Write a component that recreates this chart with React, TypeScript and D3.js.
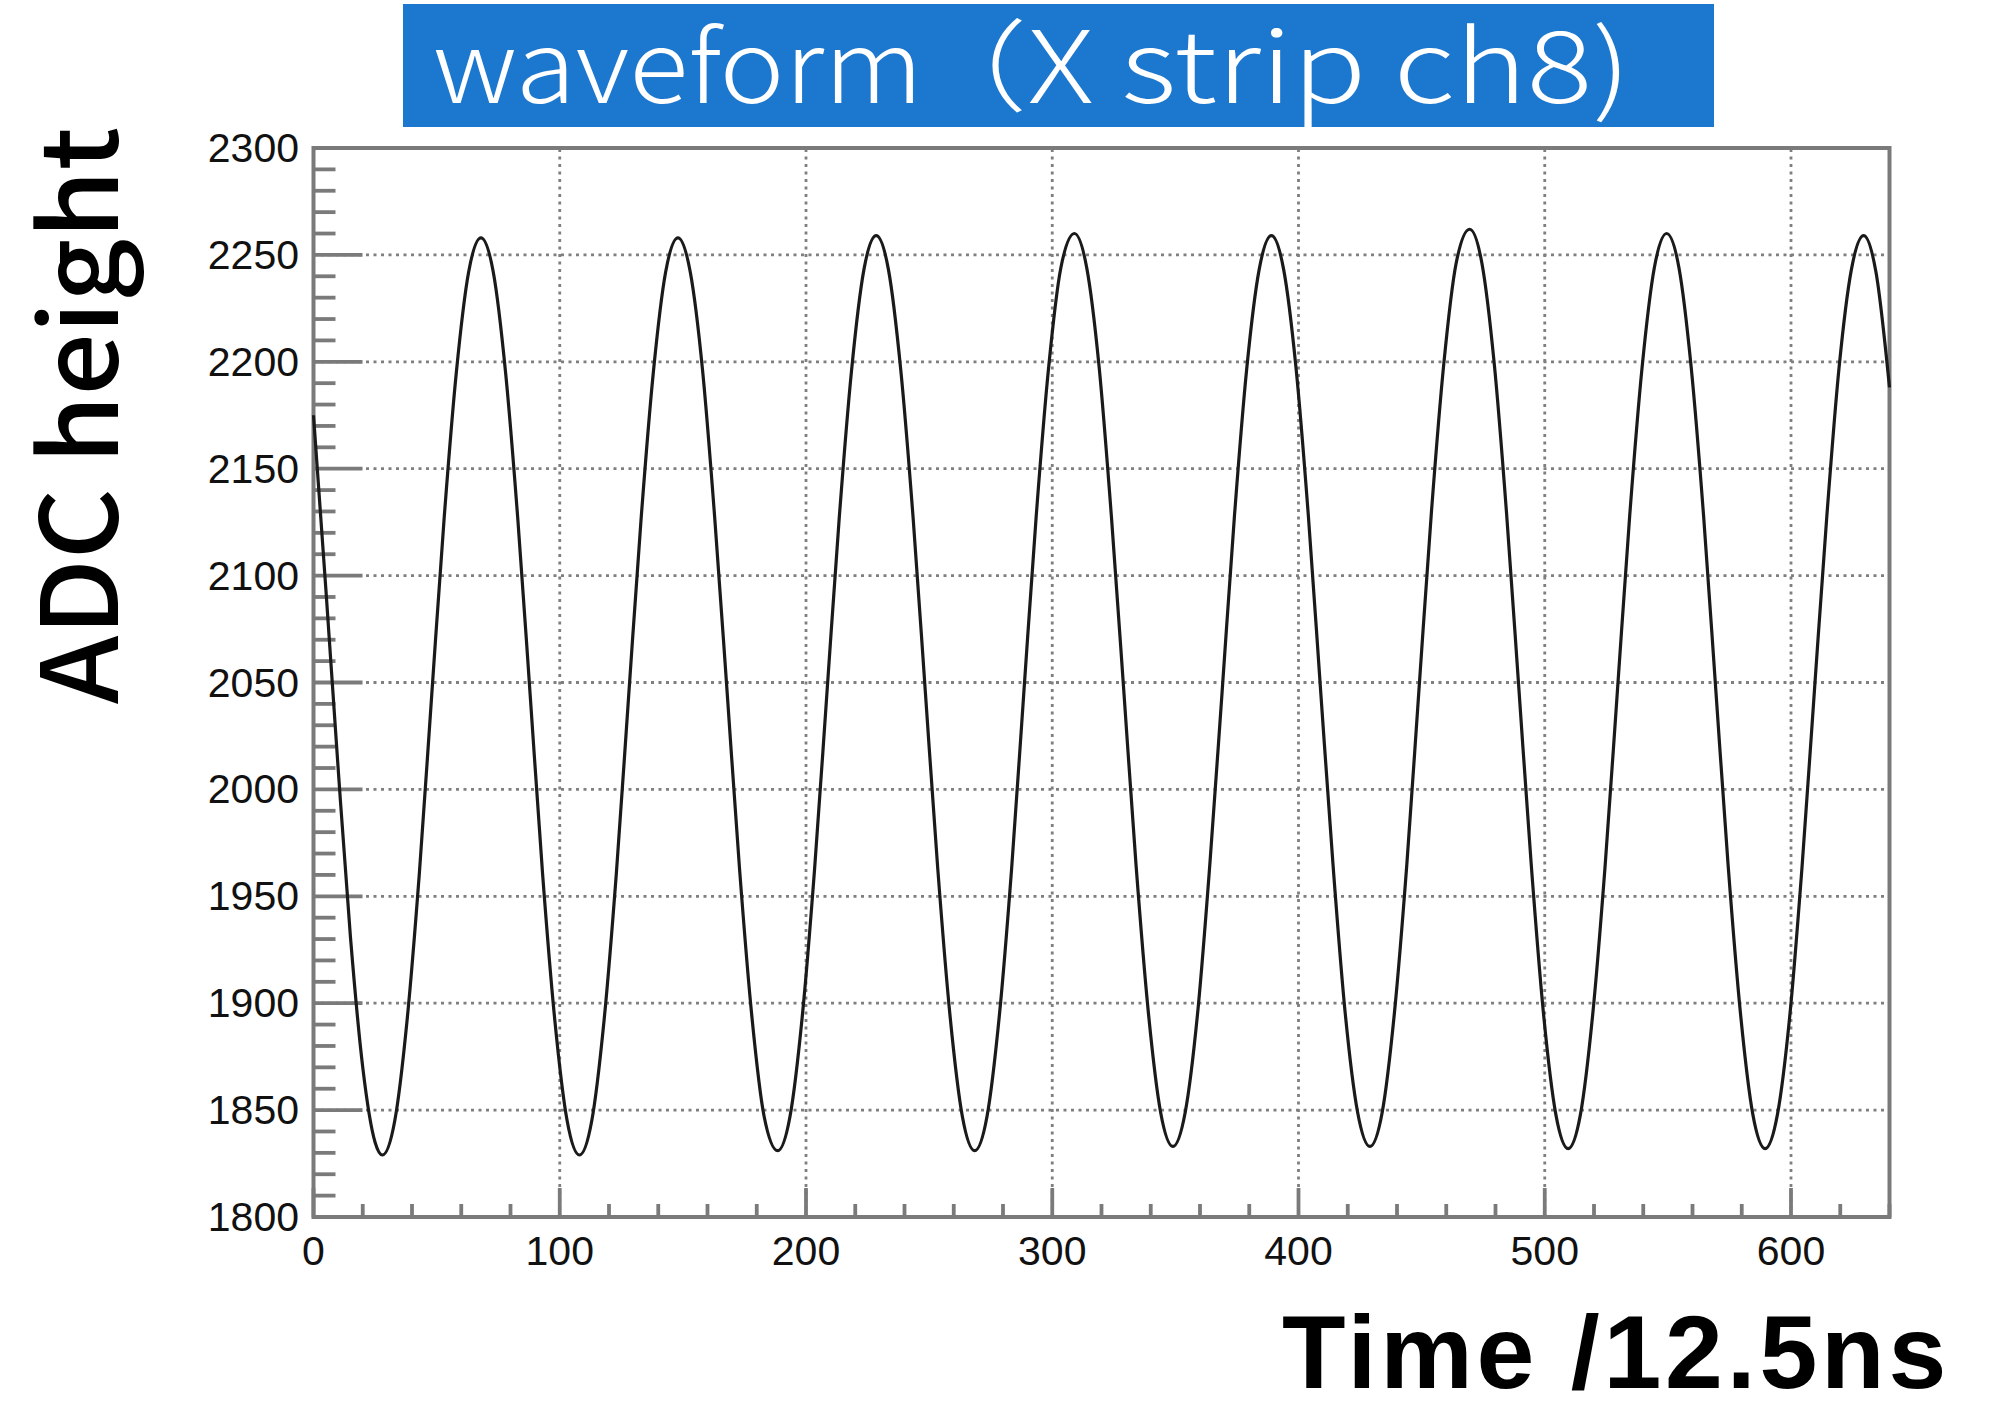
import React from "react";
import * as d3 from "d3";

// ---- data ----
const times: number[] = [
  0, 5, 10, 15, 20, 25, 28,
  33, 38, 43, 48, 53, 58, 63, 68,
  73, 78, 83, 88, 93, 98, 103, 108,
  113, 118, 123, 128, 133, 138, 143, 148,
  153, 158, 163, 168, 173, 178, 183, 188.5,
  193.5, 198.5, 203.5, 208.5, 213.5, 218.5, 223.5, 228.5,
  233.5, 238.5, 243.5, 248.5, 253.5, 258.5, 263.5, 268.5,
  273.5, 278.5, 283.5, 288.5, 293.5, 298.5, 303.5, 309,
  314, 319, 324, 329, 334, 339, 344, 349,
  354, 359, 364, 369, 374, 379, 384, 389,
  394, 399, 404, 409, 414, 419, 424, 429,
  434, 439, 444, 449, 454, 459, 464, 469.5,
  474.5, 479.5, 484.5, 489.5, 494.5, 499.5, 504.5, 509.5,
  514.5, 519.5, 524.5, 529.5, 534.5, 539.5, 544.5, 549.5,
  554.5, 559.5, 564.5, 569.5, 574.5, 579.5, 584.5, 589.5,
  594.5, 599.5, 604.5, 609.5, 614.5, 619.5, 624.5, 629.5,
  634.5, 640,
];
const adc: number[] = [
  2175, 2094, 2010, 1931, 1870, 1835, 1829,
  1845, 1892, 1961, 2044, 2126, 2195, 2242, 2258,
  2242, 2195, 2126, 2044, 1961, 1892, 1845, 1829,
  1845, 1892, 1961, 2044, 2126, 2195, 2242, 2258,
  2242, 2196, 2126, 2045, 1963, 1894, 1847, 1831,
  1847, 1894, 1963, 2045, 2127, 2196, 2243, 2259,
  2243, 2196, 2127, 2045, 1963, 1894, 1847, 1831,
  1847, 1894, 1963, 2046, 2128, 2197, 2244, 2260,
  2244, 2198, 2128, 2047, 1965, 1896, 1849, 1833,
  1849, 1895, 1965, 2046, 2128, 2197, 2243, 2259,
  2243, 2197, 2128, 2046, 1965, 1895, 1849, 1833,
  1849, 1896, 1965, 2048, 2130, 2199, 2246, 2262,
  2246, 2199, 2129, 2047, 1965, 1895, 1848, 1832,
  1848, 1895, 1964, 2046, 2128, 2197, 2244, 2260,
  2244, 2197, 2128, 2046, 1964, 1895, 1848, 1832,
  1848, 1894, 1964, 2046, 2127, 2197, 2243, 2259,
  2242, 2188,
];
const xMajorTicks: number[] = [0, 100, 200, 300, 400, 500, 600];
const yMajorTicks: number[] = [1800, 1850, 1900, 1950, 2000, 2050, 2100, 2150, 2200, 2250, 2300];
const xDomain: [number, number] = [0, 640];
const yDomain: [number, number] = [1800, 2300];
const titleWord = "waveform";
const titleRest = "（X strip ch8)";
const xLabel = "Time /12.5ns";
const yLabel = "ADC height";

const W = 1998;
const H = 1401;
const L = 313.5, R = 1889.5, T = 148, B = 1217;
const AXIS = "#7a7a7a";

export default function App() {
  const x = d3.scaleLinear().domain(xDomain).range([L, R]);
  const y = d3.scaleLinear().domain(yDomain).range([B, T]);
  const pts = times.map((t, i) => [t, adc[i]] as [number, number]);
  const line = d3
    .line<[number, number]>()
    .x((d) => x(d[0]))
    .y((d) => y(d[1]))
    .curve(d3.curveMonotoneX);

  const xMinor = d3.range(xDomain[0], xDomain[1] + 0.01, 20).filter((v) => v % 100 !== 0);
  const yMinor = d3.range(yDomain[0], yDomain[1] + 0.01, 10).filter((v) => v % 50 !== 0);
  const tickFont = "'Liberation Sans', Arial, Helvetica, sans-serif";
  const cjk = "'Noto Sans CJK JP', 'Noto Sans', sans-serif";

  return (
    <svg
      width={W}
      height={H}
      viewBox={`0 0 ${W} ${H}`}
      style={{ position: "absolute", left: 0, top: 0, background: "#fff" }}
    >
      <rect x={0} y={0} width={W} height={H} fill="#fff" />
      {/* title */}
      <rect x={403} y={4} width={1311} height={123} fill="#1c77cf" />
      <text y={103} fill="#fff" fontFamily={cjk} fontWeight={300} fontSize={100}>
        <tspan x={433} textLength={490} lengthAdjust="spacingAndGlyphs">
          {titleWord}
        </tspan>
        <tspan x={905} textLength={726} lengthAdjust="spacingAndGlyphs">
          {titleRest}
        </tspan>
      </text>

      {/* grid */}
      <g stroke="#7f7f7f" strokeWidth={2.8} strokeDasharray="3 4.5" fill="none">
        {yMajorTicks
          .filter((v) => v > yDomain[0] && v < yDomain[1])
          .map((v) => (
            <line key={"gy" + v} x1={L} x2={R} y1={y(v)} y2={y(v)} />
          ))}
        {xMajorTicks
          .filter((v) => v > xDomain[0] && v < xDomain[1])
          .map((v) => (
            <line key={"gx" + v} x1={x(v)} x2={x(v)} y1={B} y2={T} />
          ))}
      </g>

      {/* ticks */}
      <g stroke={AXIS} strokeWidth={3.8}>
        {yMajorTicks.map((v) => (
          <line key={"ty" + v} x1={L} x2={L + 49} y1={y(v)} y2={y(v)} />
        ))}
        {yMinor.map((v) => (
          <line key={"tym" + v} x1={L} x2={L + 22} y1={y(v)} y2={y(v)} />
        ))}
        {xMajorTicks.map((v) => (
          <line key={"tx" + v} x1={x(v)} x2={x(v)} y1={B} y2={B - 29} />
        ))}
        {xMinor.map((v) => (
          <line key={"txm" + v} x1={x(v)} x2={x(v)} y1={B} y2={B - 13} />
        ))}
      </g>

      {/* frame */}
      <rect x={L} y={T} width={R - L} height={B - T} fill="none" stroke={AXIS} strokeWidth={4} />

      {/* waveform */}
      <path d={line(pts) || ""} fill="none" stroke="#1a1a1a" strokeWidth={3.2} strokeLinejoin="round" />

      {/* tick labels */}
      <g fontFamily={tickFont} fontSize={41} fill="#111">
        {yMajorTicks.map((v) => (
          <text key={"ly" + v} x={299} y={y(v)} textAnchor="end" dominantBaseline="central">
            {v}
          </text>
        ))}
        {xMajorTicks.map((v) => (
          <text key={"lx" + v} x={x(v)} y={1265} textAnchor="middle">
            {v}
          </text>
        ))}
      </g>

      {/* axis titles */}
      <text
        x={1282}
        y={1388}
        fontFamily={tickFont}
        fontWeight={700}
        fontSize={104}
        letterSpacing={3.8}
        fill="#000"
      >
        {xLabel}
      </text>
      <text
        transform={`translate(118,704) rotate(-90)`}
        x={0}
        y={0}
        fontFamily={cjk}
        fontWeight={500}
        fontSize={106}
        fill="#000"
        textLength={577}
        lengthAdjust="spacingAndGlyphs"
      >
        {yLabel}
      </text>
    </svg>
  );
}
